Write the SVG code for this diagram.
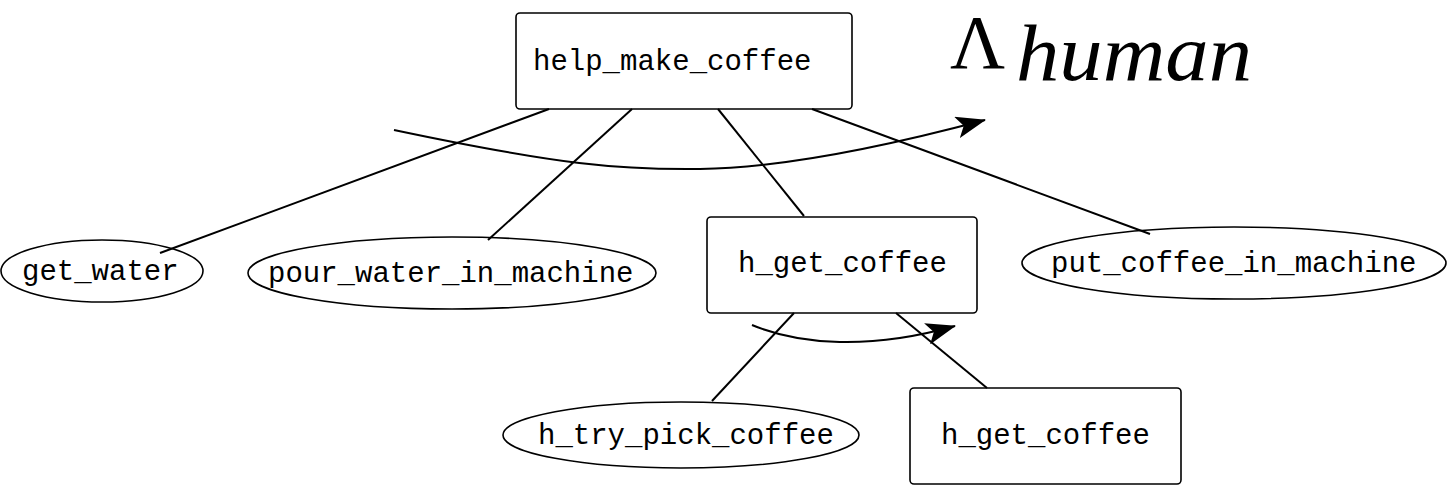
<svg xmlns="http://www.w3.org/2000/svg" width="1448" height="486" viewBox="0 0 1448 486">
<style>
.box{fill:#fff;stroke:#000;stroke-width:1.6}
.ell{fill:#fff;stroke:#000;stroke-width:1.6}
.lbl{font-family:"Liberation Mono","DejaVu Sans Mono",monospace;font-size:29px;fill:#000}
.edge{fill:none;stroke:#000;stroke-width:2}
.math{font-family:"Liberation Serif","DejaVu Serif",serif;fill:#000}
</style>
<defs>
<marker id="arr" viewBox="0 0 30 22" refX="29" refY="11" markerWidth="30" markerHeight="22" markerUnits="userSpaceOnUse" orient="auto">
<path d="M0,0 L30,11 L0,22 L7,11 z" fill="#000"/>
</marker>
</defs>
<rect width="1448" height="486" fill="#fff"/>
<g id="n_help_make_coffee"><rect class="box" x="516" y="13" width="336" height="96" rx="4"/><text class="lbl" x="533" y="70">help_make_coffee</text></g>
<g id="n_get_water"><ellipse class="ell" cx="102" cy="271" rx="101" ry="31"/><text class="lbl" x="22" y="280">get_water</text></g>
<g id="n_pour_water"><ellipse class="ell" cx="452" cy="273" rx="204" ry="36"/><text class="lbl" x="268" y="282">pour_water_in_machine</text></g>
<g id="n_h_get_coffee"><rect class="box" x="707" y="217" width="270" height="96" rx="4"/><text class="lbl" x="738" y="272">h_get_coffee</text></g>
<g id="n_put_coffee"><ellipse class="ell" cx="1234" cy="263" rx="212" ry="36"/><text class="lbl" x="1051" y="272">put_coffee_in_machine</text></g>
<g id="n_h_try_pick"><ellipse class="ell" cx="681" cy="435" rx="178" ry="33"/><text class="lbl" x="538" y="444">h_try_pick_coffee</text></g>
<g id="n_h_get_coffee2"><rect class="box" x="910" y="388" width="271" height="96" rx="4"/><text class="lbl" x="941" y="444">h_get_coffee</text></g>
<g id="connectors">
<line class="edge" x1="549" y1="109" x2="160" y2="253"/>
<line class="edge" x1="632" y1="109" x2="488" y2="240"/>
<line class="edge" x1="718" y1="109" x2="804" y2="216"/>
<line class="edge" x1="812" y1="109" x2="1150" y2="234"/>
<line class="edge" x1="794" y1="313" x2="712" y2="401"/>
<line class="edge" x1="896" y1="313" x2="987" y2="388"/>
<path class="edge" d="M394,130 C560,165 620,170 700,169 C780,168 880,148 985,120" marker-end="url(#arr)"/>
<path class="edge" d="M752,325 C800,345 870,350 955,326" marker-end="url(#arr)"/>
</g>
<g id="label_lambda">
<text class="math" x="950" y="68" font-size="76">Λ</text>
<text class="math" x="1016" y="80" font-size="80" font-style="italic" textLength="236" lengthAdjust="spacingAndGlyphs">human</text>
</g>
</svg>
